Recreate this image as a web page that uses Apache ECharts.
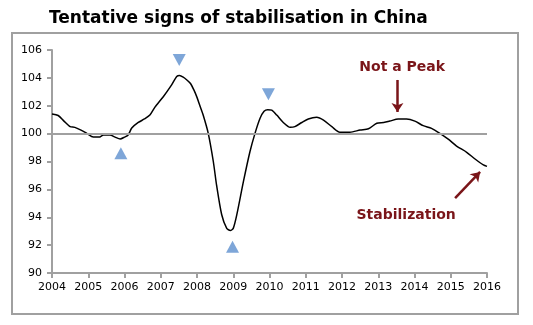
<!DOCTYPE html>
<html>
<head>
<meta charset="utf-8">
<script src="https://cdn.jsdelivr.net/npm/echarts@6/dist/echarts.min.js"></script>
<style>
html,body{margin:0;padding:0;background:#fff;}
#c{width:533px;height:325px;}
</style>
</head>
<body>
<div id="c"></div>
<script>
const titleText = 'Tentative signs of stabilisation in China';
const yearTicks = ['2004','2005','2006','2007','2008','2009','2010','2011','2012','2013','2014','2015','2016'];
const valueTicks = [90, 92, 94, 96, 98, 100, 102, 104, 106];
const dates = [2004.00,2004.17,2004.33,2004.5,2004.63,2004.8,2004.96,2005.14,2005.3,2005.42,2005.6,2005.74,2005.88,2006.0,2006.1,2006.2,2006.38,2006.55,2006.7,2006.84,2007.07,2007.3,2007.44,2007.52,2007.62,2007.72,2007.82,2007.92,2008.0,2008.08,2008.17,2008.31,2008.45,2008.54,2008.68,2008.82,2008.92,2009.0,2009.1,2009.28,2009.46,2009.6,2009.74,2009.85,2009.95,2010.06,2010.2,2010.38,2010.57,2010.7,2010.89,2011.07,2011.3,2011.49,2011.72,2011.94,2012.22,2012.5,2012.73,2012.96,2013.15,2013.32,2013.55,2013.78,2014.01,2014.24,2014.47,2014.7,2014.93,2015.16,2015.44,2015.67,2015.9,2016.0];
const values = [101.4,101.3,100.9,100.5,100.45,100.25,100.02,99.75,99.75,99.9,99.9,99.75,99.62,99.75,99.9,100.4,100.8,101.05,101.33,101.9,102.65,103.5,104.1,104.17,104.05,103.85,103.6,103.1,102.6,102.0,101.33,100.02,98.0,96.3,94.2,93.2,93.05,93.2,94.2,96.55,98.7,100.02,101.1,101.6,101.72,101.68,101.33,100.8,100.45,100.5,100.8,101.05,101.17,100.97,100.5,100.1,100.1,100.26,100.35,100.74,100.8,100.9,101.05,101.05,100.9,100.57,100.38,100.02,99.6,99.11,98.66,98.18,97.75,97.65];
const referenceLevel = 100;
// turning-point markers: [year, value, direction]
const turnMarkers = [[2005.9, 98.59, 'up'], [2007.51, 105.28, 'down'], [2008.98, 91.89, 'up'], [2009.97, 102.82, 'down']];
const noteLabels = [['Not a Peak', 2013.66, 104.78], ['Stabilization', 2013.77, 94.11]];
const noteArrows = [[[2013.53, 103.85], [2013.53, 101.55]], [[2015.12, 95.38], [2015.81, 97.25]]];

const chart = echarts.init(document.getElementById('c'), null, {renderer: 'canvas'});
const seriesData = dates.map((d, i) => [d, values[i]]);
const axisGray = '#a0a0a0';
const noteColor = '#7a1519';
const triColor = '#7ea6d8';

chart.setOption({
  animation: false,
  backgroundColor: '#fff',
  title: {
    text: titleText,
    left: 44, top: 5,
    textStyle: {fontFamily: 'DejaVu Sans', fontWeight: 'bold', fontSize: 17, color: '#000'}
  },
  graphic: [{
    type: 'rect', shape: {x: 12, y: 33, width: 506, height: 281},
    style: {fill: 'none', stroke: axisGray, lineWidth: 2}, silent: true, z: -1
  }],
  grid: {left: 52, right: 46, top: 50, bottom: 52},
  xAxis: {
    type: 'value', min: 2004, max: 2016, interval: 1,
    axisLine: {show: true, lineStyle: {color: axisGray, width: 2}},
    axisTick: {show: true, length: 5, lineStyle: {color: axisGray, width: 2}},
    splitLine: {show: false},
    axisLabel: {
      margin: 9, color: '#000', fontFamily: 'DejaVu Sans', fontSize: 11,
      formatter: v => yearTicks[Math.round(v - 2004)] || ''
    }
  },
  yAxis: {
    type: 'value', min: valueTicks[0], max: valueTicks[valueTicks.length - 1], interval: 2,
    axisLine: {show: true, lineStyle: {color: axisGray, width: 2}},
    axisTick: {show: true, length: 5, lineStyle: {color: axisGray, width: 2}},
    splitLine: {show: false},
    axisLabel: {margin: 10, color: '#000', fontFamily: 'DejaVu Sans', fontSize: 11}
  },
  series: [
    {
      type: 'line', data: [], z: 1,
      markLine: {
        silent: true, symbol: 'none', label: {show: false},
        lineStyle: {color: axisGray, width: 2, type: 'solid'},
        data: [{yAxis: referenceLevel}]
      }
    },
    {
      type: 'line', data: seriesData, smooth: 0.25, showSymbol: false, z: 3,
      lineStyle: {color: '#000', width: 1.5}
    },
    {
      type: 'line', data: [], z: 4,
      markPoint: {
        silent: true,
        data: turnMarkers.map(m => ({
          coord: [m[0], m[1]], symbol: 'triangle', symbolSize: [13, 12],
          symbolRotate: m[2] === 'down' ? 180 : 0,
          itemStyle: {color: triColor}, label: {show: false}
        })).concat(noteLabels.map(n => ({
          coord: [n[1], n[2]], symbol: 'circle', symbolSize: 0,
          label: {show: true, position: 'inside', formatter: n[0], color: noteColor,
            fontFamily: 'DejaVu Sans', fontWeight: 'bold', fontSize: 14}
        })))
      },
      markLine: {
        silent: true, symbol: ['none', 'arrow'], symbolSize: 9, label: {show: false},
        lineStyle: {color: noteColor, width: 2.5, type: 'solid'},
        data: noteArrows.map(a => [{coord: a[0]}, {coord: a[1]}])
      }
    }
  ]
});
</script>
</body>
</html>
